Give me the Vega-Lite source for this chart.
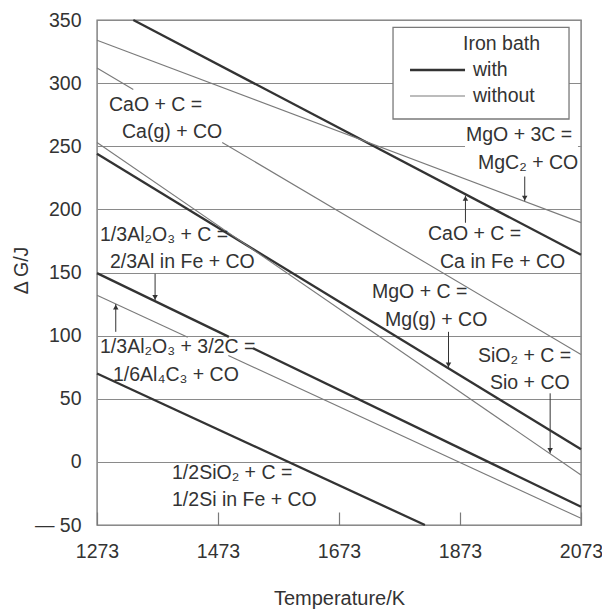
{
  "$schema": "https://vega.github.io/schema/vega-lite/v6.json",
  "width": 484,
  "height": 505,
  "autosize": "none",
  "padding": {"left": 97, "top": 20, "right": 21, "bottom": 85},
  "background": "white",
  "config": {
    "font": "Liberation Sans",
    "view": {"stroke": "#7a7a7a", "strokeWidth": 1.4},
    "text": {"font": "Liberation Sans", "fontSize": 19.5, "color": "#333333"}
  },
  "datasets": {
    "lines": [
      {"curve": "CaO + C = Ca in Fe + CO", "bath": "with", "part": "a", "T": 1333, "G": 350},
      {"curve": "CaO + C = Ca in Fe + CO", "bath": "with", "part": "a", "T": 2073, "G": 164},
      {"curve": "MgO + 3C = MgC2 + CO", "bath": "without", "part": "a", "T": 1273, "G": 334},
      {"curve": "MgO + 3C = MgC2 + CO", "bath": "without", "part": "a", "T": 2073, "G": 189.5},
      {"curve": "CaO + C = Ca(g) + CO", "bath": "without", "part": "a", "T": 1273, "G": 312},
      {"curve": "CaO + C = Ca(g) + CO", "bath": "without", "part": "a", "T": 1333, "G": 295},
      {"curve": "CaO + C = Ca(g) + CO", "bath": "without", "part": "b", "T": 1480, "G": 253},
      {"curve": "CaO + C = Ca(g) + CO", "bath": "without", "part": "b", "T": 2073, "G": 85},
      {"curve": "MgO + C = Mg(g) + CO", "bath": "with", "part": "a", "T": 1273, "G": 244},
      {"curve": "MgO + C = Mg(g) + CO", "bath": "with", "part": "a", "T": 2073, "G": 10},
      {"curve": "SiO2 + C = SiO + CO", "bath": "without", "part": "a", "T": 1273, "G": 253},
      {"curve": "SiO2 + C = SiO + CO", "bath": "without", "part": "a", "T": 2073, "G": -10.4},
      {"curve": "1/3Al2O3 + C = 2/3Al in Fe + CO", "bath": "with", "part": "a", "T": 1273, "G": 149.5},
      {"curve": "1/3Al2O3 + C = 2/3Al in Fe + CO", "bath": "with", "part": "a", "T": 1491, "G": 99},
      {"curve": "1/3Al2O3 + C = 2/3Al in Fe + CO", "bath": "with", "part": "b", "T": 1531, "G": 90},
      {"curve": "1/3Al2O3 + C = 2/3Al in Fe + CO", "bath": "with", "part": "b", "T": 2073, "G": -35.5},
      {"curve": "1/3Al2O3 + 3/2C = 1/6Al4C3 + CO", "bath": "without", "part": "a", "T": 1273, "G": 132},
      {"curve": "1/3Al2O3 + 3/2C = 1/6Al4C3 + CO", "bath": "without", "part": "a", "T": 1423, "G": 98.8},
      {"curve": "1/3Al2O3 + 3/2C = 1/6Al4C3 + CO", "bath": "without", "part": "b", "T": 1490, "G": 84.2},
      {"curve": "1/3Al2O3 + 3/2C = 1/6Al4C3 + CO", "bath": "without", "part": "b", "T": 2073, "G": -44.7},
      {"curve": "1/2SiO2 + C = 1/2Si in Fe + CO", "bath": "with", "part": "a", "T": 1273, "G": 70},
      {"curve": "1/2SiO2 + C = 1/2Si in Fe + CO", "bath": "with", "part": "a", "T": 1815, "G": -50}
    ],
    "arrows": [
      {"T": 1369, "from": 149, "to": 128, "dir": "down"},
      {"T": 1304, "from": 103, "to": 125, "dir": "up"},
      {"T": 1882, "from": 189.4, "to": 211, "dir": "up"},
      {"T": 1980, "from": 226, "to": 206.5, "dir": "down"},
      {"T": 1854, "from": 103, "to": 74.5, "dir": "down"},
      {"T": 2022, "from": 54.3, "to": 6.8, "dir": "down"}
    ],
    "labels": [
      {"T": 1292.8, "G": 282.7, "text": "CaO + C ="},
      {"T": 1314.3, "G": 261, "text": "Ca(g) + CO"},
      {"T": 1882.9, "G": 258.9, "text": "MgO + 3C ="},
      {"T": 1902.8, "G": 236.7, "text": "MgC₂ + CO"},
      {"T": 1820.1, "G": 180.5, "text": "CaO + C ="},
      {"T": 1840, "G": 158.3, "text": "Ca in Fe + CO"},
      {"T": 1727.5, "G": 134.6, "text": "MgO + C ="},
      {"T": 1749, "G": 112, "text": "Mg(g) + CO"},
      {"T": 1902.8, "G": 83.9, "text": "SiO₂ + C ="},
      {"T": 1922.6, "G": 62.5, "text": "Sio + CO"},
      {"T": 1278, "G": 179.7, "text": "1/3Al₂O₃ + C ="},
      {"T": 1294.5, "G": 158.3, "text": "2/3Al in Fe + CO"},
      {"T": 1278, "G": 91, "text": "1/3Al₂O₃ + 3/2C ="},
      {"T": 1299.4, "G": 68.8, "text": "1/6Al₄C₃ + CO"},
      {"T": 1397, "G": -8.8, "text": "1/2SiO₂ + C ="},
      {"T": 1397, "G": -30.2, "text": "1/2Si in Fe + CO"}
    ]
  },
  "layer": [
    {
      "data": {"name": "lines"},
      "mark": {"type": "line", "strokeCap": "butt"},
      "encoding": {
        "x": {
          "field": "T", "type": "quantitative",
          "scale": {"domain": [1273, 2073], "nice": false, "zero": false},
          "axis": {
            "values": [1273, 1473, 1673, 1873, 2073], "format": "d",
            "grid": false, "domain": false,
            "ticks": true, "tickSize": -13, "tickColor": "#7a7a7a", "tickWidth": 1.2,
            "labelPadding": 30, "labelBaseline": "top", "labelFlush": false, "labelOverlap": false,
            "labelFont": "Liberation Sans", "labelFontSize": 19.5, "labelColor": "#333333",
            "title": "Temperature/K", "titleFont": "Liberation Sans", "titleFontSize": 20,
            "titleFontWeight": "normal", "titleColor": "#333333",
            "titleBaseline": "alphabetic", "titleY": 79
          }
        },
        "y": {
          "field": "G", "type": "quantitative",
          "scale": {"domain": [-50, 350], "nice": false, "zero": false},
          "axis": {
            "values": [-50, 0, 50, 100, 150, 200, 250, 300, 350],
            "grid": true, "gridColor": "#8a8a8a", "gridWidth": 1.2,
            "domain": false, "ticks": false,
            "labelPadding": 16, "labelOverlap": false,
            "labelExpr": "datum.value < 0 ? '— ' + abs(datum.value) : datum.label",
            "labelFont": "Liberation Sans", "labelFontSize": 19.5, "labelColor": "#333333",
            "title": "Δ G/J", "titleFont": "Liberation Sans", "titleFontSize": 19.5,
            "titleFontWeight": "normal", "titleColor": "#333333",
            "titleAngle": -90, "titleAlign": "center", "titleBaseline": "middle",
            "titleX": -76, "titleY": 250
          }
        },
        "detail": [{"field": "curve"}, {"field": "part"}],
        "color": {"field": "bath", "type": "nominal", "scale": {"domain": ["with", "without"], "range": ["#333333", "#7a7a7a"]}, "legend": null},
        "strokeWidth": {"field": "bath", "type": "nominal", "scale": {"domain": ["with", "without"], "range": [2.3, 1.1]}, "legend": null}
      }
    },
    {
      "data": {"values": [{}]},
      "mark": {"type": "rect", "fill": "white", "stroke": null},
      "encoding": {
        "x": {"datum": 1881.3, "type": "quantitative"},
        "x2": {"datum": 2068},
        "y": {"datum": 264, "type": "quantitative"},
        "y2": {"datum": 247.5}
      }
    },
    {
      "data": {"values": [{}]},
      "mark": {"type": "rect", "fill": "white", "stroke": "#7a7a7a", "strokeWidth": 1.3},
      "encoding": {
        "x": {"datum": 1762.3, "type": "quantitative"},
        "x2": {"datum": 2053.2},
        "y": {"datum": 344.2, "type": "quantitative"},
        "y2": {"datum": 271.6}
      }
    },
    {
      "data": {"name": "arrows"},
      "mark": {"type": "rule", "color": "#333333", "strokeWidth": 1},
      "encoding": {
        "x": {"field": "T", "type": "quantitative"},
        "y": {"field": "from", "type": "quantitative"},
        "y2": {"field": "to"}
      }
    },
    {
      "data": {"name": "arrows"},
      "transform": [{"filter": "datum.dir == 'down'"}],
      "mark": {"type": "point", "shape": "triangle-down", "filled": true, "color": "#333333", "size": 30, "opacity": 1, "yOffset": -3},
      "encoding": {
        "x": {"field": "T", "type": "quantitative"},
        "y": {"field": "to", "type": "quantitative"}
      }
    },
    {
      "data": {"name": "arrows"},
      "transform": [{"filter": "datum.dir == 'up'"}],
      "mark": {"type": "point", "shape": "triangle-up", "filled": true, "color": "#333333", "size": 30, "opacity": 1, "yOffset": 3},
      "encoding": {
        "x": {"field": "T", "type": "quantitative"},
        "y": {"field": "to", "type": "quantitative"}
      }
    },
    {
      "data": {"name": "labels"},
      "mark": {"type": "text", "align": "left", "baseline": "middle", "fontSize": 19.5, "color": "#333333"},
      "encoding": {
        "x": {"field": "T", "type": "quantitative"},
        "y": {"field": "G", "type": "quantitative"},
        "text": {"field": "text"}
      }
    },
    {
      "data": {"values": [{}]},
      "mark": {"type": "text", "align": "left", "baseline": "middle", "fontSize": 19.5, "color": "#333333", "text": "Iron bath"},
      "encoding": {
        "x": {"datum": 1878, "type": "quantitative"},
        "y": {"datum": 331, "type": "quantitative"}
      }
    },
    {
      "data": {"values": [{}]},
      "mark": {"type": "rule", "color": "#333333", "strokeWidth": 2.3},
      "encoding": {
        "x": {"datum": 1790.4, "type": "quantitative"},
        "x2": {"datum": 1881.3},
        "y": {"datum": 310.4, "type": "quantitative"}
      }
    },
    {
      "data": {"values": [{}]},
      "mark": {"type": "rule", "color": "#7a7a7a", "strokeWidth": 1.1},
      "encoding": {
        "x": {"datum": 1790.4, "type": "quantitative"},
        "x2": {"datum": 1881.3},
        "y": {"datum": 289.8, "type": "quantitative"}
      }
    },
    {
      "data": {"values": [{}]},
      "mark": {"type": "text", "align": "left", "baseline": "middle", "fontSize": 19.5, "color": "#333333", "text": "with"},
      "encoding": {
        "x": {"datum": 1894.5, "type": "quantitative"},
        "y": {"datum": 310.4, "type": "quantitative"}
      }
    },
    {
      "data": {"values": [{}]},
      "mark": {"type": "text", "align": "left", "baseline": "middle", "fontSize": 19.5, "color": "#333333", "text": "without"},
      "encoding": {
        "x": {"datum": 1894.5, "type": "quantitative"},
        "y": {"datum": 289.8, "type": "quantitative"}
      }
    }
  ]
}
